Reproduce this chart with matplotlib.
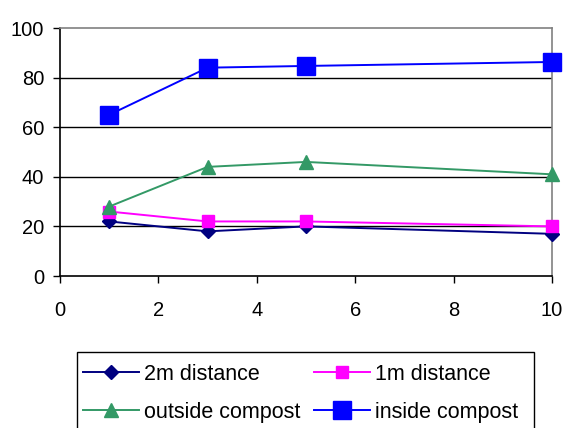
import matplotlib
matplotlib.use('Agg')
import matplotlib.pyplot as plt
from matplotlib.patches import Rectangle

plt.rcParams['font.family'] = ['Liberation Sans', 'DejaVu Sans']

# sampling distance / days
days = [1, 3, 5, 10]
dist_2m = [22, 18, 20, 17]
dist_1m = [26, 22, 22, 20]
outside_compost = [28, 44, 46, 41]
inside_compost = [65, 84, 84.7, 86.3]

x_ticks = [0, 2, 4, 6, 8, 10]
y_ticks = [0, 20, 40, 60, 80, 100]

W, H = 564, 428
fig = plt.figure(figsize=(W / 100, H / 100), dpi=100)
ax = fig.add_axes([60 / W, 1 - 276 / H, 492 / W, 248 / H])

l2, = ax.plot(days, dist_2m, color='#000080', marker='D', markersize=7, lw=1.4,
              label='2m distance', clip_on=False, zorder=5)
l1, = ax.plot(days, dist_1m, color='#FF00FF', marker='s', markersize=8.5, lw=1.4,
              label='1m distance', clip_on=False, zorder=5)
lo, = ax.plot(days, outside_compost, color='#339966', marker='^', markersize=10, lw=1.4,
              label='outside compost', clip_on=False, zorder=5)
li, = ax.plot(days, inside_compost, color='#0000FF', marker='s', markersize=13, lw=1.4,
              label='inside compost', clip_on=False, zorder=5)

ax.set_xlim(0, 10)
ax.set_ylim(0, 100)
ax.set_xticks(x_ticks)
ax.set_yticks(y_ticks)
ax.tick_params(axis='both', labelsize=14.5, direction='out', length=4.8, width=1, color='black')
ax.tick_params(axis='x', pad=13.5)
ax.tick_params(axis='y', pad=6.5)

# gridlines only at interior y ticks
for v in y_ticks[1:-1]:
    ax.axhline(v, color='black', lw=1, zorder=1)

ax.spines['left'].set_color('black')
ax.spines['bottom'].set_color('black')
ax.spines['top'].set_color('#808080')
ax.spines['right'].set_color('#808080')
for s in ax.spines.values():
    s.set_linewidth(1.2)

# legend box, running off the bottom edge
fig.patches.append(Rectangle((77 / W, -0.02), 457 / W, 1 - 352 / H + 0.02,
                             transform=fig.transFigure, fill=False,
                             edgecolor='black', lw=1, zorder=3))
fig.legend(handles=[l2, lo, l1, li], ncol=2, loc='upper left',
           bbox_to_anchor=(83 / W, 1 - 364 / H), fontsize=15.5,
           frameon=False, handlelength=2.6, handletextpad=0.23,
           columnspacing=0.62, labelspacing=0.77, borderpad=0,
           borderaxespad=0)

fig.savefig('out.png', dpi=100)
